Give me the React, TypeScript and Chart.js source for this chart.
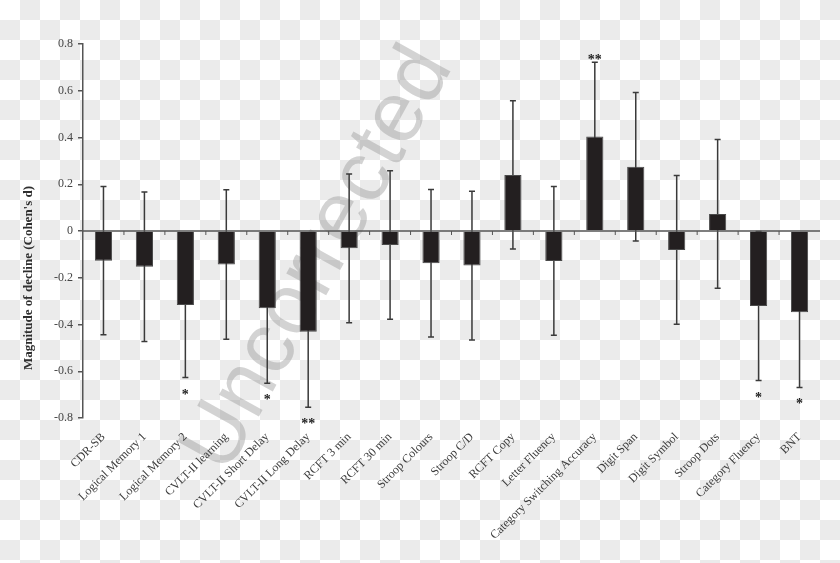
import React, { useEffect, useRef } from "react";
import { Chart, registerables } from "chart.js";

Chart.register(...registerables);

const categories = [
  "CDR-SB",
  "Logical Memory 1",
  "Logical Memory 2",
  "CVLT-II learning",
  "CVLT-II Short Delay",
  "CVLT-II Long Delay",
  "RCFT 3 min",
  "RCFT 30 min",
  "Stroop Colours",
  "Stroop C/D",
  "RCFT Copy",
  "Letter Fluency",
  "Category Switching Accuracy",
  "Digit Span",
  "Digit Symbol",
  "Stroop Dots",
  "Category Fluency",
  "BNT",
];

const means = [
  -0.127, -0.153, -0.317, -0.143, -0.331, -0.431, -0.074, -0.06, -0.138,
  -0.148, 0.24, -0.128, 0.404, 0.275, -0.081, 0.073, -0.321, -0.348,
];

const errors = [
  0.317, 0.32, 0.31, 0.32, 0.32, 0.323, 0.318, 0.318, 0.316, 0.318, 0.317,
  0.318, 0.318, 0.318, 0.318, 0.318, 0.319, 0.321,
];

const significance = [
  "", "", "*", "", "*", "**", "", "", "", "", "", "", "**", "", "", "", "*", "*",
];

const yTitle = "Magnitude of decline (Cohen's d)";
const watermark = "Uncorrected";

const SERIF = "'Liberation Serif', 'Times New Roman', serif";

const customPlugin = {
  id: "custom",
  beforeDraw(chart: any) {
    const { ctx, width, height } = chart;
    ctx.save();
    ctx.fillStyle = "#ffffff";
    ctx.fillRect(0, 0, width, height);
    ctx.fillStyle = "#ebebeb";
    const sq = 20;
    for (let j = 0; j * sq < height; j++) {
      for (let i = 0; i * sq < width; i++) {
        if ((i + j) % 2 === 1) ctx.fillRect(i * sq, j * sq, sq, sq);
      }
    }
    // watermark
    ctx.translate(226, 476);
    ctx.rotate((-61 * Math.PI) / 180);
    ctx.fillStyle = "rgba(150,150,150,0.42)";
    ctx.font = "86px 'Liberation Sans', Arial, sans-serif";
    ctx.textBaseline = "alphabetic";
    ctx.textAlign = "left";
    ctx.fillText(watermark, 0, 0);
    ctx.restore();
  },
  beforeDatasetsDraw(chart: any) {
    const { ctx, scales } = chart;
    const x = scales.x;
    const y = scales.y;
    ctx.save();
    // error bars (drawn beneath the bars)
    ctx.strokeStyle = "#3a3a3a";
    ctx.lineWidth = 1.5;
    for (let i = 0; i < categories.length; i++) {
      const cx = x.getPixelForValue(i);
      const top = y.getPixelForValue(means[i] + errors[i]);
      const bot = y.getPixelForValue(means[i] - errors[i]);
      ctx.beginPath();
      ctx.moveTo(cx, top);
      ctx.lineTo(cx, bot);
      ctx.moveTo(cx - 3, top);
      ctx.lineTo(cx + 3, top);
      ctx.moveTo(cx - 3, bot);
      ctx.lineTo(cx + 3, bot);
      ctx.stroke();
    }
    ctx.restore();
  },
  afterDatasetsDraw(chart: any) {
    const { ctx, chartArea, scales } = chart;
    const x = scales.x;
    const y = scales.y;
    const y0 = y.getPixelForValue(0);
    ctx.save();
    // zero line
    ctx.strokeStyle = "#555555";
    ctx.lineWidth = 1.5;
    ctx.beginPath();
    ctx.moveTo(chartArea.left, y0);
    ctx.lineTo(chartArea.right, y0);
    ctx.stroke();
    // category boundary ticks
    ctx.lineWidth = 1;
    for (let i = 0; i < categories.length - 1; i++) {
      const bx = (x.getPixelForValue(i) + x.getPixelForValue(i + 1)) / 2;
      ctx.beginPath();
      ctx.moveTo(bx, y0);
      ctx.lineTo(bx, y0 + 4);
      ctx.stroke();
    }
    // significance marks
    ctx.fillStyle = "#222222";
    ctx.font = `bold 14px ${SERIF}`;
    ctx.textAlign = "center";
    ctx.textBaseline = "alphabetic";
    for (let i = 0; i < categories.length; i++) {
      const s = significance[i];
      if (!s) continue;
      const cx = x.getPixelForValue(i);
      if (means[i] < 0) {
        const bot = y.getPixelForValue(means[i] - errors[i]);
        ctx.fillText(s, cx, bot + 21);
      } else {
        const top = y.getPixelForValue(means[i] + errors[i]);
        ctx.fillText(s, cx, top + 2);
      }
    }
    ctx.restore();
  },
  afterDraw(chart: any) {
    const { ctx } = chart;
    ctx.save();
    ctx.translate(29, 278);
    ctx.rotate(-Math.PI / 2);
    ctx.fillStyle = "#2e2e2e";
    ctx.font = `bold 13px ${SERIF}`;
    ctx.textAlign = "center";
    ctx.textBaseline = "middle";
    ctx.fillText(yTitle, 0, 0);
    ctx.restore();
  },
};

export default function App() {
  const ref = useRef<HTMLCanvasElement>(null);
  useEffect(() => {
    if (!ref.current) return;
    const chart = new Chart(ref.current, {
      type: "bar",
      data: {
        labels: categories,
        datasets: [
          {
            data: means,
            backgroundColor: "#231f20",
            borderColor: "#4a4a4a",
            borderWidth: 1,
            barPercentage: 0.42,
            categoryPercentage: 1,
          },
        ],
      },
      options: {
        responsive: false,
        animation: false,
        devicePixelRatio: 1,
        layout: { padding: { top: 44, right: 20, left: 0, bottom: 0 } },
        plugins: {
          legend: { display: false },
          tooltip: { enabled: false },
          title: { display: false },
        },
        scales: {
          x: {
            offset: true,
            grid: { display: false, drawTicks: false },
            border: { display: false },
            ticks: {
              autoSkip: false,
              maxRotation: 45,
              minRotation: 45,
              padding: 12,
              color: "#3d3d3d",
              font: { family: SERIF, size: 12 },
            },
            afterFit: (s: any) => {
              s.height = 145;
            },
          },
          y: {
            min: -0.8,
            max: 0.8,
            ticks: {
              stepSize: 0.2,
              padding: 5,
              color: "#444444",
              font: { family: SERIF, size: 12 },
              callback: (v: any) => String(Math.round(Number(v) * 10) / 10),
            },
            grid: {
              drawOnChartArea: false,
              drawTicks: true,
              tickLength: 5,
              color: "#555555",
              lineWidth: 1.5,
            },
            border: { display: true, color: "#555555", width: 1.5 },
            afterFit: (s: any) => {
              s.width = 83;
            },
          },
        },
      },
      plugins: [customPlugin],
    });
    return () => chart.destroy();
  }, []);
  return (
    <div style={{ position: "fixed", left: 0, top: 0, width: 840, height: 563 }}>
      <canvas ref={ref} width={840} height={563} style={{ display: "block" }} />
    </div>
  );
}
